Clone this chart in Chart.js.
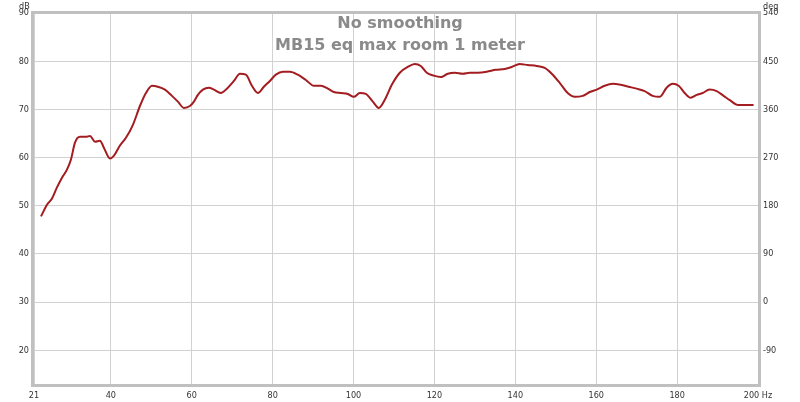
<!DOCTYPE html>
<html>
<head>
<meta charset="utf-8">
<script src="https://cdn.jsdelivr.net/npm/chart.js@4.4.0/dist/chart.umd.min.js"></script>
<style>
html,body{margin:0;padding:0;background:#fff;}
#wrap{position:relative;width:800px;height:402px;}
canvas{position:absolute;left:0;top:0;}
.title{position:absolute;left:0;width:800px;text-align:center;font-family:"DejaVu Sans",sans-serif;font-weight:bold;font-size:16px;color:#8a8a8a;line-height:20px;}
.unit{position:absolute;font-family:"DejaVu Sans Condensed","Liberation Sans",sans-serif;font-size:9px;color:#333;line-height:10px;}
</style>
</head>
<body>
<div id="wrap">
<canvas id="c" width="800" height="402"></canvas>
<div class="title" style="top:13px">No smoothing</div>
<div class="title" style="top:35px">MB15 eq max room 1 meter</div>
<div class="unit" style="left:19px;top:1px">dB</div>
<div class="unit" style="left:763px;top:1px">deg</div>
</div>
<script>
const freqTicks = [21, 40, 60, 80, 100, 120, 140, 160, 180, 200];
const dbTicks = [20, 30, 40, 50, 60, 70, 80, 90];
const degTicks = [-90, 0, 90, 180, 270, 360, 450, 540];

const freqs = [22.73,24.21,25.45,26.68,27.92,29.15,30.14,31.13,32.37,33.85,34.84,36.07,37.31,38.30,39.78,40.77,42.25,43.73,45.46,47.19,48.67,50.16,51.64,53.37,55.10,56.58,58.06,59.55,60.54,61.52,62.76,64.24,65.48,67.21,68.69,70.42,71.90,73.39,74.87,76.35,77.83,79.32,80.80,82.53,84.26,86.23,88.21,90.19,91.92,93.65,95.13,96.86,98.59,100.07,101.55,103.04,104.77,106.25,107.73,109.46,111.44,113.41,115.14,116.63,118.11,119.84,121.57,123.30,125.03,127.01,128.74,130.71,132.94,135.16,137.38,139.11,141.09,143.07,145.29,147.27,149.00,150.97,152.95,154.68,156.66,158.39,160.12,162.09,164.07,166.05,168.02,170.00,171.98,173.95,175.68,177.41,178.90,180.38,181.86,183.34,184.83,186.31,188.04,189.77,191.50,193.23,194.96,196.69,198.9];
const spl = [47.8,50.2,51.5,53.8,55.8,57.5,59.6,63.1,64.3,64.3,64.5,63.3,63.5,62.0,59.8,60.4,62.5,64.1,66.8,70.7,73.4,74.9,74.7,74.1,72.8,71.6,70.3,70.7,71.6,73.0,74.1,74.5,74.1,73.4,74.3,75.9,77.4,77.2,74.9,73.4,74.7,75.9,77.2,77.8,77.8,77.2,76.1,74.9,74.9,74.3,73.6,73.4,73.2,72.6,73.4,73.2,71.6,70.3,72.0,75.1,77.6,78.8,79.4,79.0,77.6,77.0,76.7,77.4,77.6,77.4,77.6,77.6,77.8,78.2,78.4,78.8,79.4,79.2,79.0,78.6,77.4,75.5,73.4,72.6,72.8,73.6,74.1,74.9,75.3,75.1,74.7,74.3,73.8,72.8,72.6,74.5,75.3,74.9,73.4,72.4,73.0,73.4,74.1,73.8,72.8,71.8,70.9,70.9,70.9];

const tickFont = {family: '"DejaVu Sans Condensed", "Liberation Sans", sans-serif', size: 9};

const frame = {
  id: 'frame',
  afterDraw(chart) {
    const a = chart.chartArea, ctx = chart.ctx;
    ctx.save();
    ctx.lineWidth = 3;
    ctx.strokeStyle = '#c0c0c0';
    ctx.strokeRect(a.left - 1.5, a.top - 0.5, a.right - a.left + 3, a.bottom - a.top + 1);
    ctx.restore();
  }
};

new Chart(document.getElementById('c'), {
  type: 'line',
  data: {
    datasets: [{
      data: freqs.map((f, i) => ({x: f, y: spl[i]})),
      borderColor: '#a31c20',
      borderWidth: 2,
      pointRadius: 0,
      tension: 0.4,
      cubicInterpolationMode: 'monotone',
      fill: false
    }]
  },
  options: {
    responsive: false,
    animation: false,
    events: [],
    layout: {padding: {top: 13, left: 0, right: 0, bottom: 0}},
    plugins: {legend: {display: false}, tooltip: {enabled: false}, title: {display: false}},
    scales: {
      x: {
        type: 'linear', min: 21, max: 200,
        afterBuildTicks: s => { s.ticks = freqTicks.map(v => ({value: v})); },
        afterFit: s => { s.height = 17; },
        grid: {color: '#d2d2d2', drawTicks: false, lineWidth: 1},
        border: {display: false},
        ticks: {padding: 5, color: '#333', font: tickFont, maxRotation: 0, autoSkip: false,
          callback: v => v === 200 ? '200 Hz' : String(v)}
      },
      y: {
        position: 'left', min: 12.8, max: 90,
        afterBuildTicks: s => { s.ticks = dbTicks.map(v => ({value: v})); },
        afterFit: s => { s.width = 34; },
        grid: {color: '#d2d2d2', drawTicks: false, lineWidth: 1},
        border: {display: false},
        ticks: {padding: 5, color: '#333', font: tickFont}
      },
      y2: {
        position: 'right', min: -154.8, max: 540,
        afterBuildTicks: s => { s.ticks = degTicks.map(v => ({value: v})); },
        afterFit: s => { s.width = 42; },
        grid: {display: false, drawTicks: false},
        border: {display: false},
        ticks: {padding: 5, color: '#333', font: tickFont}
      }
    }
  },
  plugins: [frame]
});
</script>
</body>
</html>
